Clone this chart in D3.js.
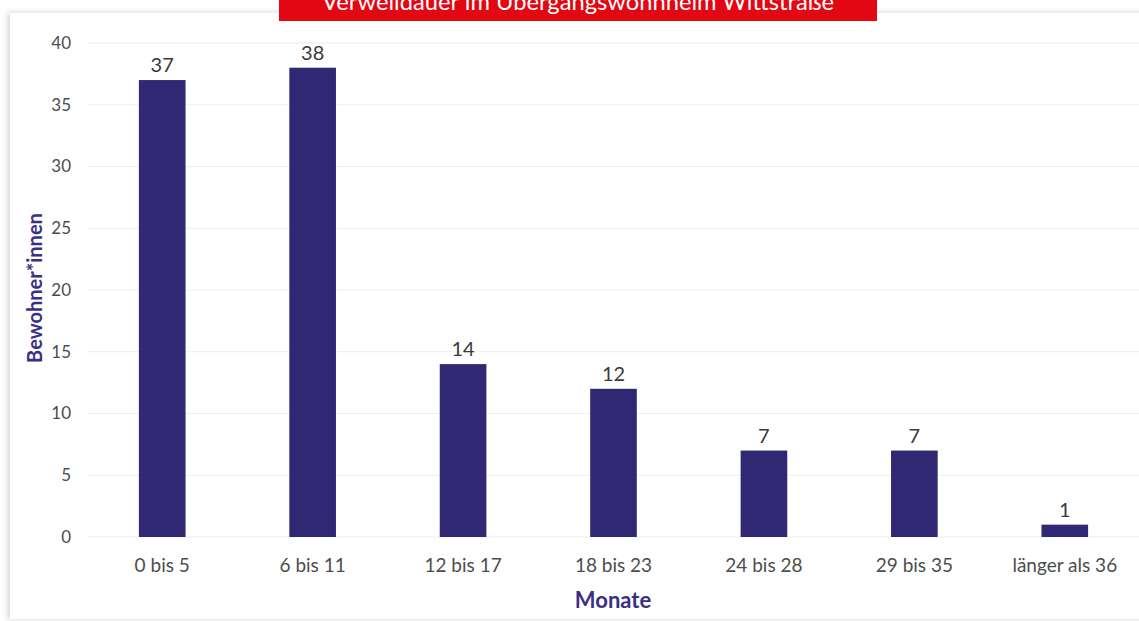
<!DOCTYPE html>
<html lang="de">
<head>
    <meta charset="UTF-8">
    <script src="https://d3js.org/d3.v7.min.js"></script>
    <style>
        body { margin: 0; background: #fff; }
        text { font-family: Lato, "Open Sans", sans-serif; }
    </style>
</head>
<body>
<div id="chart"></div>
<script>
    var categories = ["0 bis 5", "6 bis 11", "12 bis 17", "18 bis 23", "24 bis 28", "29 bis 35", "länger als 36"];
    var values = [37, 38, 14, 12, 7, 7, 1];
    var yTicks = [0, 5, 10, 15, 20, 25, 30, 35, 40];

    var canvasWidth = 1139;
    var canvasHeight = 621;
    var svg = d3.select("#chart").append("svg")
        .attr("width", canvasWidth)
        .attr("height", canvasHeight);

    var defs = svg.append("defs");
    var f = defs.append("filter").attr("id", "shadow")
        .attr("x", "-5%").attr("y", "-5%").attr("width", "110%").attr("height", "110%");
    f.append("feDropShadow").attr("dx", -2).attr("dy", 0).attr("stdDeviation", 3)
        .attr("flood-color", "#000").attr("flood-opacity", 0.18);

    // panel
    svg.append("rect")
        .attr("x", 10).attr("y", 13)
        .attr("width", 1160).attr("height", 606)
        .attr("fill", "#fff")
        .attr("filter", "url(#shadow)");

    // red banner (title is cut off at the top edge, like the source)
    svg.append("rect")
        .attr("x", 279).attr("y", -5)
        .attr("width", 598).attr("height", 26)
        .attr("fill", "#e30613");
    svg.append("text")
        .attr("x", 578).attr("y", 10)
        .attr("text-anchor", "middle")
        .attr("fill", "#fff")
        .attr("font-size", "23px")
        .attr("textLength", 512)
        .attr("lengthAdjust", "spacingAndGlyphs")
        .text("Verweildauer im Übergangswohnheim Wittstraße");

    var x0 = 87, x1 = 1140, yTop = 43, yBottom = 537;
    var xScale = d3.scaleBand().domain(categories).range([x0, x1]).paddingInner(0.69).paddingOuter(0.345);
    var yScale = d3.scaleLinear().domain([0, 40]).range([yBottom, yTop]);

    var g = svg.append("g");

    // gridlines
    g.selectAll(".grid").data(yTicks).enter().append("line")
        .attr("x1", x0).attr("x2", x1)
        .attr("y1", function (d) { return yScale(d); })
        .attr("y2", function (d) { return yScale(d); })
        .attr("stroke", "#eeeeee")
        .attr("stroke-width", 1.2);

    // y axis labels
    var yAxis = g.append("g")
        .attr("transform", "translate(" + x0 + ",0)")
        .call(d3.axisLeft(yScale).tickValues(yTicks).tickSize(0).tickPadding(16));
    yAxis.select(".domain").remove();
    yAxis.selectAll("text")
        .attr("fill", "#4d4d4d")
        .attr("font-size", "17px")
        .style("font-family", "Lato, 'Open Sans', sans-serif");

    // x axis labels
    var xAxis = g.append("g")
        .attr("transform", "translate(0," + yBottom + ")")
        .call(d3.axisBottom(xScale).tickSize(0).tickPadding(22));
    xAxis.select(".domain").remove();
    xAxis.selectAll("text")
        .attr("fill", "#4d4d4d")
        .attr("font-size", "19px")
        .style("font-family", "Lato, 'Open Sans', sans-serif");

    // bars
    g.selectAll(".bar").data(values).enter().append("rect")
        .attr("class", "bar")
        .attr("x", function (d, i) { return xScale(categories[i]); })
        .attr("y", function (d) { return yScale(d); })
        .attr("width", xScale.bandwidth())
        .attr("height", function (d) { return yBottom - yScale(d); })
        .attr("fill", "#312873");

    // value labels
    g.selectAll(".val").data(values).enter().append("text")
        .attr("x", function (d, i) { return xScale(categories[i]) + xScale.bandwidth() / 2; })
        .attr("y", function (d) { return yScale(d) - 8; })
        .attr("text-anchor", "middle")
        .attr("fill", "#3a3a3a")
        .attr("font-size", "20px")
        .text(function (d) { return d; });

    // axis titles
    svg.append("text")
        .attr("x", 613).attr("y", 608)
        .attr("text-anchor", "middle")
        .attr("fill", "#3b2f84")
        .attr("font-size", "22px")
        .attr("font-weight", "bold")
        .text("Monate");
    svg.append("text")
        .attr("transform", "translate(42,288) rotate(-90)")
        .attr("text-anchor", "middle")
        .attr("fill", "#3b2f84")
        .attr("font-size", "20px")
        .attr("font-weight", "bold")
        .text("Bewohner*innen");
</script>
</body>
</html>
